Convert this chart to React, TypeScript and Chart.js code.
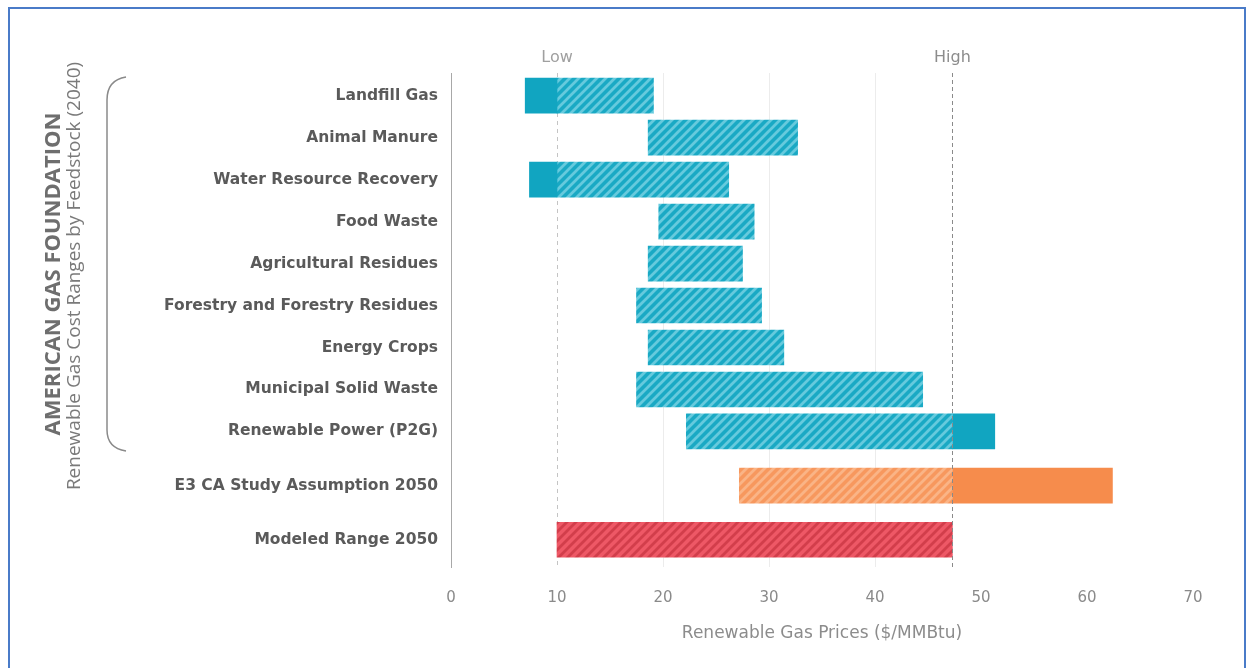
import React, { useEffect, useRef } from 'react';
import { Chart, registerables } from 'chart.js';

Chart.register(...registerables);

// ---------- data ----------
const categories = [
  'Landfill Gas',
  'Animal Manure',
  'Water Resource Recovery',
  'Food Waste',
  'Agricultural Residues',
  'Forestry and Forestry Residues',
  'Energy Crops',
  'Municipal Solid Waste',
  'Renewable Power (P2G)',
  'E3 CA Study Assumption 2050',
  'Modeled Range 2050',
];
const groups = [0, 0, 0, 0, 0, 0, 0, 0, 0, 1, 2];
const lowValues = [7.0, 18.6, 7.4, 19.6, 18.6, 17.5, 18.6, 17.5, 22.2, 27.2, 10.0];
const highValues = [19.1, 32.7, 26.2, 28.6, 27.5, 29.3, 31.4, 44.5, 51.3, 62.4, 47.3];
const rangeLow = 10;
const rangeHigh = 47.3;
const xTicks = [0, 10, 20, 30, 40, 50, 60, 70];
const gridValues = [20, 30, 40];

const groupTitle = 'AMERICAN GAS FOUNDATION';
const groupSubtitle = 'Renewable Gas Cost Ranges by Feedstock (2040)';
const xTitle = 'Renewable Gas Prices ($/MMBtu)';

// ---------- styles ----------
const FONT = "'Open Sans', sans-serif";
const WIDE = "'DejaVu Sans', sans-serif";
const solidColors = ['#11a5c1', '#f68c4c', '#ee5866'];
const hatchBase = ['#1aa9c4', '#f7985e', '#ee5866'];
const hatchStripe = ['#66cadd', '#fab486', '#d23e4b'];
const GROUP_GAP = 0.29;

// row positions on the index axis (extra gap between groups)
const positions = groups.map((g, i) => i + g * GROUP_GAP);

function makePattern(base: string, stripe: string, lw: number) {
  const s = 9;
  const c = document.createElement('canvas');
  c.width = s;
  c.height = s;
  const g = c.getContext('2d')!;
  g.fillStyle = base;
  g.fillRect(0, 0, s, s);
  g.strokeStyle = stripe;
  g.lineWidth = lw;
  g.beginPath();
  g.moveTo(-s / 2, s / 2);
  g.lineTo(s / 2, -s / 2);
  g.moveTo(-1, s + 1);
  g.lineTo(s + 1, -1);
  g.moveTo(s / 2, s * 1.5);
  g.lineTo(s * 1.5, s / 2);
  g.stroke();
  return g.createPattern(c, 'repeat')!;
}

export default function App() {
  const ref = useRef<HTMLCanvasElement>(null);

  useEffect(() => {
    document.body.style.margin = '0';
    const patterns = hatchBase.map((b, i) => makePattern(b, hatchStripe[i], 2.8));

    const segLow: any[] = [];
    const segMid: any[] = [];
    const segHigh: any[] = [];
    categories.forEach((_, i) => {
      const lo = lowValues[i];
      const hi = highValues[i];
      const y = positions[i];
      const g = groups[i];
      if (lo < rangeLow) segLow.push({ x: [lo, Math.min(hi, rangeLow)], y, g });
      const a = Math.max(lo, rangeLow);
      const b = Math.min(hi, rangeHigh);
      if (b > a) segMid.push({ x: [a, b], y, g });
      if (hi > rangeHigh) segHigh.push({ x: [Math.max(lo, rangeHigh), hi], y, g });
    });

    const annot = {
      id: 'annot',
      beforeDatasetsDraw(chart: any) {
        const { ctx, chartArea, scales } = chart;
        const x = Math.round(scales.x.getPixelForValue(rangeLow)) + 0.5;
        ctx.save();
        ctx.strokeStyle = '#c4c4c4';
        ctx.lineWidth = 1;
        ctx.setLineDash([4, 4]);
        ctx.beginPath();
        ctx.moveTo(x, chartArea.top);
        ctx.lineTo(x, chartArea.bottom);
        ctx.stroke();
        ctx.restore();
      },
      afterDatasetsDraw(chart: any) {
        const { ctx, chartArea, scales } = chart;
        const x = Math.round(scales.x.getPixelForValue(rangeHigh)) + 0.5;
        ctx.save();
        ctx.strokeStyle = '#8a8a8a';
        ctx.lineWidth = 1;
        ctx.setLineDash([4, 3]);
        ctx.beginPath();
        ctx.moveTo(x, chartArea.top);
        ctx.lineTo(x, chartArea.bottom);
        ctx.stroke();
        ctx.restore();
      },
      afterDraw(chart: any) {
        const { ctx, scales } = chart;
        ctx.save();
        // Low / High labels
        ctx.font = `16px ${WIDE}`;
        ctx.textAlign = 'center';
        ctx.textBaseline = 'middle';
        ctx.fillStyle = '#a0a0a0';
        ctx.fillText('Low', scales.x.getPixelForValue(rangeLow), 58);
        ctx.fillStyle = '#8c8c8c';
        ctx.fillText('High', scales.x.getPixelForValue(rangeHigh), 58);

        // rotated group titles
        ctx.save();
        ctx.translate(54, 274);
        ctx.rotate(-Math.PI / 2);
        ctx.fillStyle = '#6e6e6e';
        ctx.font = `bold 22px ${FONT}`;
        ctx.fillText(groupTitle, 0, 0);
        ctx.restore();

        ctx.save();
        ctx.translate(75, 276);
        ctx.rotate(-Math.PI / 2);
        ctx.fillStyle = '#7a7a7a';
        ctx.font = `19px ${FONT}`;
        ctx.fillText(groupSubtitle, 0, 0);
        ctx.restore();

        // bracket
        ctx.strokeStyle = '#8a8a8a';
        ctx.lineWidth = 1.5;
        ctx.beginPath();
        ctx.moveTo(126, 77);
        ctx.quadraticCurveTo(107, 80, 107, 100);
        ctx.lineTo(107, 430);
        ctx.quadraticCurveTo(107, 448, 126, 451);
        ctx.stroke();

        // frame
        ctx.strokeStyle = '#4a7bc8';
        ctx.lineWidth = 2;
        ctx.strokeRect(9, 8, 1236, 680);
        ctx.restore();
      },
    };

    const chart = new Chart(ref.current!, {
      type: 'bar',
      data: {
        datasets: [
          {
            data: segLow,
            backgroundColor: (c: any) => solidColors[c.raw ? c.raw.g : 0],
          },
          {
            data: segMid,
            backgroundColor: (c: any) => patterns[c.raw ? c.raw.g : 0],
          },
          {
            data: segHigh,
            backgroundColor: (c: any) => solidColors[c.raw ? c.raw.g : 0],
          },
        ] as any,
      },
      options: {
        animation: false,
        responsive: true,
        maintainAspectRatio: false,
        indexAxis: 'y',
        events: [],
        datasets: {
          bar: {
            grouped: false,
            barThickness: 35,
            borderWidth: 0,
          },
        } as any,
        layout: { padding: { top: 73, right: 59, bottom: 20, left: 0 } },
        plugins: { legend: { display: false }, tooltip: { enabled: false } },
        scales: {
          x: {
            type: 'linear',
            min: 0,
            max: 70,
            afterBuildTicks: (scale: any) => {
              scale.ticks = xTicks.map((v) => ({ value: v }));
            },
            afterFit: (scale: any) => {
              scale.height = 81;
            },
            grid: {
              drawTicks: false,
              color: (c: any) => (gridValues.includes(c.tick?.value) ? '#ececec' : 'rgba(0,0,0,0)'),
            },
            border: { display: false },
            ticks: {
              color: '#8a8a8a',
              font: { family: WIDE, size: 15 },
              padding: 22,
            },
            title: {
              display: true,
              text: xTitle,
              color: '#8c8c8c',
              font: { family: WIDE, size: 17 },
              padding: { top: 0, bottom: 4 },
            },
          },
          y: {
            type: 'linear',
            reverse: true,
            offset: false,
            min: -0.54,
            max: 11.23,
            afterBuildTicks: (scale: any) => {
              scale.ticks = positions.map((v) => ({ value: v }));
            },
            afterFit: (scale: any) => {
              scale.width = 451;
            },
            grid: { display: false, drawTicks: false, offset: false },
            border: { display: true, color: '#a8a8a8', width: 1 },
            ticks: {
              autoSkip: false,
              padding: 13,
              color: '#5a5a5a',
              font: { family: WIDE, size: 15.5, weight: 'bold' },
              callback: (value: any) => {
                const i = positions.findIndex((p) => Math.abs(p - Number(value)) < 1e-6);
                return i >= 0 ? categories[i] : '';
              },
            },
          },
        },
      } as any,
      plugins: [annot],
    });
    return () => chart.destroy();
  }, []);

  return (
    <div style={{ position: 'relative', width: 1252, height: 668, background: '#fff' }}>
      <canvas ref={ref} style={{ display: 'block' }} />
    </div>
  );
}
